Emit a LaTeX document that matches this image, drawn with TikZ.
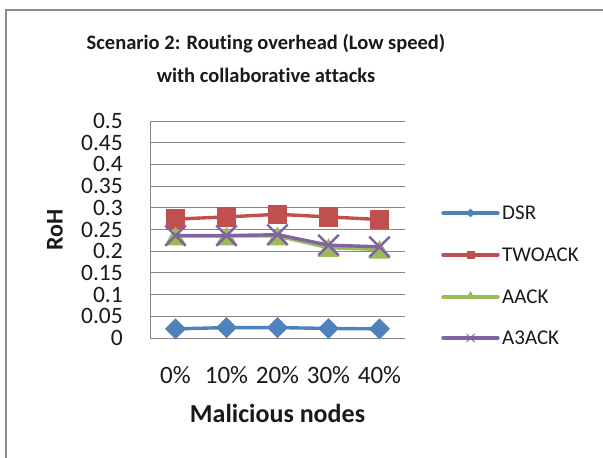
\documentclass[tikz,border=0pt]{standalone}
\usepackage{fontspec}
\setmainfont[Ligatures=NoCommon]{Carlito}
\usetikzlibrary{shapes.geometric,shapes.misc}
\definecolor{dsrc}{HTML}{4F81BD}
\definecolor{twoc}{HTML}{C0504D}
\definecolor{aackc}{HTML}{9BBB59}
\definecolor{a3c}{HTML}{8064A2}
\definecolor{framec}{HTML}{8C8C8C}
\definecolor{gridc}{HTML}{878787}
\definecolor{textc}{HTML}{1A1A1A}
\tikzset{
  gridline/.style={gridc, line width=0.9},
  serline/.style={line width=3.4, line join=round, line cap=round},
  dsrmark/.style={diamond, fill=dsrc, inner sep=0, minimum width=21, minimum height=21},
  twomark/.style={rectangle, fill=twoc, inner sep=0, minimum size=19.5},
  aackmark/.style={regular polygon, regular polygon sides=3, fill=aackc, inner sep=0, minimum size=25, yshift=-3},
  a3mark/.style={cross out, draw=a3c, line width=2.4, inner sep=0, minimum size=18},
  ylab/.style={anchor=east, font=\fontsize{23.5}{24}\selectfont, text=textc, inner sep=0},
  xlab/.style={anchor=center, font=\fontsize{25}{25}\selectfont, text=textc, inner sep=0},
  leglab/.style={anchor=west, font=\fontsize{21}{22}\selectfont, text=textc, inner sep=0},
}
\begin{document}
\begin{tikzpicture}[x=1pt,y=-1pt]
\useasboundingbox (0,0) rectangle (603,458);
\fill[white] (0,0) rectangle (603,458);
\draw[framec, line width=2.2] (6,458) -- (6,10) -- (603,10);
% title
\node[font=\bfseries\fontsize{20.5}{33}\selectfont, align=center, text=textc] (title) at (266,58)
  {Scenario 2: Routing overhead (Low speed)\\with collaborative attacks};
% grid
\foreach \i in {1,...,10} {
  \draw[gridline] (150,{338-21.7*\i}) -- (405,{338-21.7*\i});
}
\draw[gridline] (150,121) -- (150,338) -- (405,338);
% y labels
\foreach \v/\t [count=\k from 0] in {0/0,1/0.05,2/0.1,3/0.15,4/0.2,5/0.25,6/0.3,7/0.35,8/0.4,9/0.45,10/0.5} {
  \node[ylab] (yl\k) at (123,{338-21.7*\v}) {\t};
}
% x labels
\foreach \t [count=\k from 0] in {0\%,10\%,20\%,30\%,40\%} {
  \node[xlab] (xl\k) at ({175.5+51*\k},375) {\t};
}
\node[font=\bfseries\fontsize{26}{26}\selectfont, text=textc] (xtitle) at (277.5,413) {Malicious nodes};
\node[font=\bfseries\fontsize{24}{24}\selectfont, text=textc, rotate=90] (ytitle) at (55,230) {RoH};
% data coordinates
\foreach \s/\vals in {d/{0.021,0.024,0.024,0.022,0.021},t/{0.274,0.279,0.285,0.279,0.273},g/{0.235,0.235,0.235,0.208,0.204},p/{0.236,0.236,0.238,0.214,0.21}} {
  \foreach \v [count=\k from 0] in \vals {
    \coordinate (\s\k) at ({175.5+51*\k},{338-434*\v});
  }
}
% DSR
\draw[serline, dsrc] (d0) -- (d1) -- (d2) -- (d3) -- (d4);
\foreach \k in {0,...,4} \node[dsrmark] (dm\k) at (d\k) {};
% TWOACK
\draw[serline, twoc] (t0) -- (t1) -- (t2) -- (t3) -- (t4);
\foreach \k in {0,...,4} \node[twomark] (tm\k) at (t\k) {};
% AACK
\draw[serline, aackc] (g0) -- (g1) -- (g2) -- (g3) -- (g4);
\foreach \k in {0,...,4} \node[aackmark] (gm\k) at (g\k) {};
% A3ACK
\draw[serline, a3c] (p0) -- (p1) -- (p2) -- (p3) -- (p4);
\foreach \k in {0,...,4} \node[a3mark] (pm\k) at (p\k) {};
% legend
\foreach \s/\c/\lab/\yy in {d/dsrc/DSR/213, t/twoc/TWOACK/255, g/aackc/AACK/297, p/a3c/A3ACK/338} {
  \coordinate (L\s a) at (443,\yy);
  \coordinate (L\s b) at (498,\yy);
  \draw[\c, line width=3.4, line cap=round] (L\s a) -- (L\s b);
  \node[leglab] (L\s t) at (502,\yy) {\lab};
}
\node[diamond, fill=dsrc, inner sep=0, minimum size=9] (Ldm) at (470.5,213) {};
\node[rectangle, fill=twoc, inner sep=0, minimum size=8] (Ltm) at (470.5,255) {};
\node[regular polygon, regular polygon sides=3, fill=aackc, inner sep=0, minimum size=10] (Lgm) at (470.5,296) {};
\node[cross out, draw=a3c, line width=1, inner sep=0, minimum size=7] (Lpm) at (470.5,338) {};
\end{tikzpicture}
\end{document}
